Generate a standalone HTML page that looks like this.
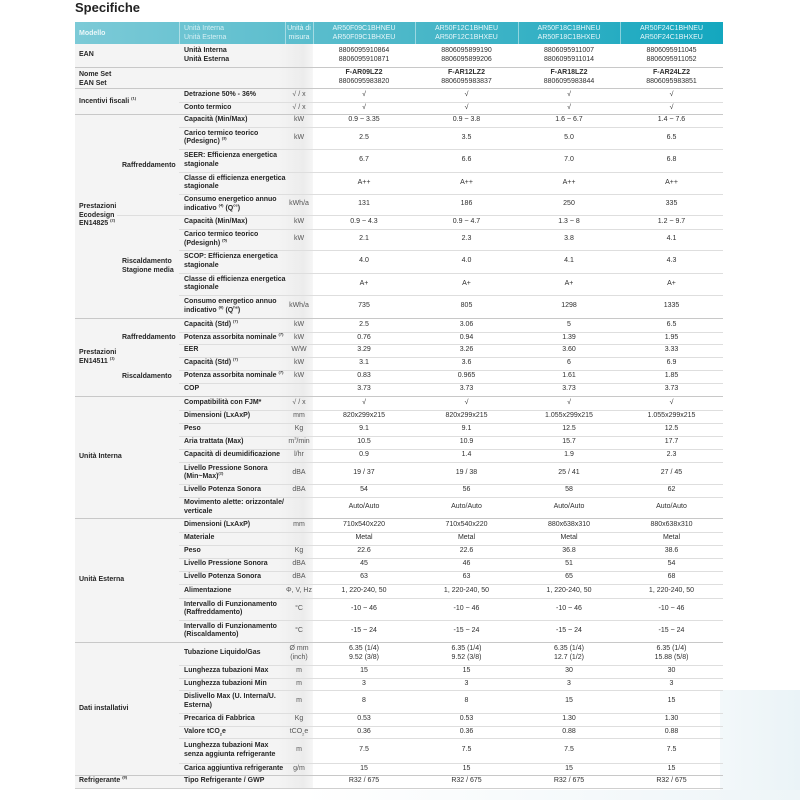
<!DOCTYPE html>
<html><head><meta charset="utf-8">
<style>
html,body{margin:0;padding:0;background:#fff;width:800px;height:800px;overflow:hidden;position:relative;font-family:"Liberation Sans",sans-serif;}
.t{position:absolute;font-size:7px;line-height:8.5px;color:#2e2e2e;white-space:nowrap;}
.b{font-weight:bold;color:#262626;}
.c{text-align:center;}
.l{position:absolute;height:1px;background:#d9d9d9;}
sup,sub{font-size:4px;line-height:0;}
</style></head><body>
<div style="position:absolute;left:720px;top:690px;width:80px;height:110px;background:linear-gradient(90deg,#f3f8fa,#eaf3f7)"></div>
<div style="position:absolute;left:300px;top:790px;width:500px;height:10px;background:linear-gradient(90deg,#fff,#eef5f8)"></div>
<div style="position:absolute;left:75px;top:0px;font-size:13px;font-weight:bold;color:#222;line-height:16px;">Specifiche</div>
<div style="position:absolute;left:75px;top:44px;width:238px;height:744px;background:linear-gradient(90deg,#f4f4f4 0%,#f4f4f4 85%,#ececec 96%,#f6f6f6 100%)"></div>
<div style="position:absolute;left:75px;top:22px;width:648px;height:22px;background:linear-gradient(90deg,#7ccad7,#4db8c9 50%,#14a7bf)"></div>
<div id="r"></div>
<script>
var R=document.getElementById('r'),h='';
function T(x,y,w,txt,cls,col){h+='<div class="t '+(cls||'')+'" style="left:'+x+'px;top:'+y+'px;width:'+w+'px;'+(col?'color:'+col+';':'')+'">'+txt+'</div>';}
function L(x,y,w,c){h+='<div class="l" style="left:'+x+'px;top:'+y+'px;width:'+w+'px;'+(c?'background:'+c:'')+'"></div>';}
T(79,30,90,'Modello','b','#eaf7f9');
T(184,25,100,'Unità Interna<br>Unità Esterna','', '#d6f0f4');
T(285,25,28,'Unità di<br>misura','c','#e6f6f8');
var hm=[['AR50F09C1BHNEU','AR50F09C1BHXEU'],['AR50F12C1BHNEU','AR50F12C1BHXEU'],['AR50F18C1BHNEU','AR50F18C1BHXEU'],['AR50F24C1BHNEU','AR50F24C1BHXEU']];
var cx=[313,415,518,620,723];
for(var i=0;i<4;i++){T(cx[i],25,cx[i+1]-cx[i],hm[i][0]+'<br>'+hm[i][1],'c','#e8f7fa');}
[179,285,313,415,518,620].forEach(function(x){h+='<div style="position:absolute;left:'+x+'px;top:22px;width:1px;height:22px;background:rgba(255,255,255,.45)"></div>';});
var S='√';
var rows=[
[44,67,'Unità Interna<br>Unità Esterna','','8806095910864<br>8806095910871','8806095899190<br>8806095899206','8806095911007<br>8806095911014','8806095911045<br>8806095911052',75],
[67,88,'','','<b>F-AR09LZ2</b><br>8806095983820','<b>F-AR12LZ2</b><br>8806095983837','<b>F-AR18LZ2</b><br>8806095983844','<b>F-AR24LZ2</b><br>8806095983851',75],
[88,102,'Detrazione 50% - 36%','√ / x',S,S,S,S,75],
[102,114,'Conto termico','√ / x',S,S,S,S,179],
[114,127,'Capacità (Min/Max)','kW','0.9 ~ 3.35','0.9 ~ 3.8','1.6 ~ 6.7','1.4 ~ 7.6',75],
[127,149,'Carico termico teorico<br>(Pdesignc) <sup>(3)</sup>','kW','2.5','3.5','5.0','6.5',179],
[149,172,'SEER: Efficienza energetica<br>stagionale','','6.7','6.6','7.0','6.8',179],
[172,194,'Classe di efficienza energetica<br>stagionale','','A++','A++','A++','A++',179],
[194,215,'Consumo energetico annuo<br>indicativo <sup>(4)</sup> (Q<sup>ce</sup>)','kWh/a','131','186','250','335',179],
[215,229,'Capacità (Min/Max)','kW','0.9 ~ 4.3','0.9 ~ 4.7','1.3 ~ 8','1.2 ~ 9.7',117],
[229,250,'Carico termico teorico<br>(Pdesignh) <sup>(5)</sup>','kW','2.1','2.3','3.8','4.1',179],
[250,273,'SCOP: Efficienza energetica<br>stagionale','','4.0','4.0','4.1','4.3',179],
[273,295,'Classe di efficienza energetica<br>stagionale','','A+','A+','A+','A+',179],
[295,318,'Consumo energetico annuo<br>indicativo <sup>(6)</sup> (Q<sup>he</sup>)','kWh/a','735','805','1298','1335',179],
[318,332,'Capacità (Std) <sup>(7)</sup>','kW','2.5','3.06','5','6.5',75],
[332,344,'Potenza assorbita nominale <sup>(7)</sup>','kW','0.76','0.94','1.39','1.95',179],
[344,357,'EER','W/W','3.29','3.26','3.60','3.33',179],
[357,370,'Capacità (Std) <sup>(7)</sup>','kW','3.1','3.6','6','6.9',179],
[370,383,'Potenza assorbita nominale <sup>(7)</sup>','kW','0.83','0.965','1.61','1.85',179],
[383,396,'COP','','3.73','3.73','3.73','3.73',179],
[396,410,'Compatibilità con FJM*','√ / x',S,S,S,S,75],
[410,423,'Dimensioni (LxAxP)','mm','820x299x215','820x299x215','1.055x299x215','1.055x299x215',179],
[423,436,'Peso','Kg','9.1','9.1','12.5','12.5',179],
[436,449,'Aria trattata (Max)','m<sup>3</sup>/min','10.5','10.9','15.7','17.7',179],
[449,462,'Capacità di deumidificazione','l/hr','0.9','1.4','1.9','2.3',179],
[462,484,'Livello Pressione Sonora<br>(Min~Max)<sup>(2)</sup>','dBA','19 / 37','19 / 38','25 / 41','27 / 45',179],
[484,497,'Livello Potenza Sonora','dBA','54','56','58','62',179],
[497,518,'Movimento alette: orizzontale/<br>verticale','','Auto/Auto','Auto/Auto','Auto/Auto','Auto/Auto',179],
[518,532,'Dimensioni (LxAxP)','mm','710x540x220','710x540x220','880x638x310','880x638x310',75],
[532,545,'Materiale','','Metal','Metal','Metal','Metal',179],
[545,558,'Peso','Kg','22.6','22.6','36.8','38.6',179],
[558,571,'Livello Pressione Sonora','dBA','45','46','51','54',179],
[571,584,'Livello Potenza Sonora','dBA','63','63','65','68',179],
[584,598,'Alimentazione','Φ, V, Hz','1, 220-240, 50','1, 220-240, 50','1, 220-240, 50','1, 220-240, 50',179],
[598,620,'Intervallo di Funzionamento<br>(Raffreddamento)','°C','-10 ~ 46','-10 ~ 46','-10 ~ 46','-10 ~ 46',179],
[620,642,'Intervallo di Funzionamento<br>(Riscaldamento)','°C','-15 ~ 24','-15 ~ 24','-15 ~ 24','-15 ~ 24',179],
[642,665,'Tubazione Liquido/Gas','Ø mm<br>(inch)','6.35 (1/4)<br>9.52 (3/8)','6.35 (1/4)<br>9.52 (3/8)','6.35 (1/4)<br>12.7 (1/2)','6.35 (1/4)<br>15.88 (5/8)',75],
[665,678,'Lunghezza tubazioni Max','m','15','15','30','30',179],
[678,690,'Lunghezza tubazioni Min','m','3','3','3','3',179],
[690,713,'Dislivello Max (U. Interna/U.<br>Esterna)','m','8','8','15','15',179],
[713,726,'Precarica di Fabbrica','Kg','0.53','0.53','1.30','1.30',179],
[726,738,'Valore tCO<sub>2</sub>e','tCO<sub>2</sub>e','0.36','0.36','0.88','0.88',179],
[738,763,'Lunghezza tubazioni Max<br>senza aggiunta refrigerante','m','7.5','7.5','7.5','7.5',179],
[763,775,'Carica aggiuntiva refrigerante','g/m','15','15','15','15',179],
[775,788,'Tipo Refrigerante / GWP','','R32 / 675','R32 / 675','R32 / 675','R32 / 675',75]
];
rows.forEach(function(r){
 var t=r[0],b=r[1],two=(r[2].indexOf('<br>')>=0),mid=(t+b)/2;
 if(r[2])T(184,two?mid-8.5:mid-4.5,100,r[2],'b');
 if(r[3]){var u2=r[3].indexOf('<br>')>=0;T(285,u2?mid-8.5:mid-4.5,28,r[3],'c','#555');}
 for(var i=0;i<4;i++){var v2=r[4+i].indexOf('<br>')>=0;T(cx[i],v2?mid-8.5:mid-4.5,cx[i+1]-cx[i],r[4+i],'c');}
 if(t>44)L(r[8],t,723-r[8],r[8]==75?'#c8c8c8':'#dedede');
});
L(75,788,648,'#cfcfcf');
T(79,51,95,'EAN','b');
T(79,71,95,'Nome Set<br>EAN Set','b');
T(79,98,95,'Incentivi fiscali <sup>(1)</sup>','b');
T(79,203,40,'Prestazioni<br>Ecodesign<br>EN14825 <sup>(2)</sup>','b');
T(122,162,60,'Raffreddamento','b');
T(122,258,60,'Riscaldamento<br>Stagione media','b');
T(79,349,40,'Prestazioni<br>EN14511 <sup>(1)</sup>','b');
T(122,334,60,'Raffreddamento','b');
T(122,373,60,'Riscaldamento','b');
T(79,453,95,'Unità Interna','b');
T(79,576,95,'Unità Esterna','b');
T(79,705,95,'Dati installativi','b');
T(79,777,95,'Refrigerante <sup>(8)</sup>','b');
R.innerHTML=h;
</script>
</body></html>
